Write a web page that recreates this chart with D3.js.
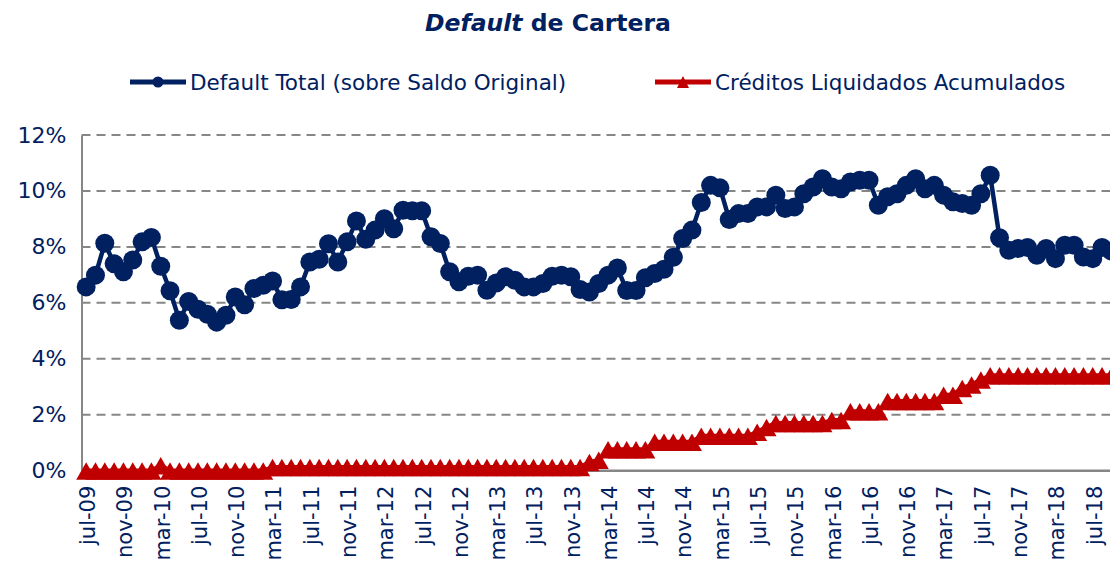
<!DOCTYPE html>
<html><head><meta charset="utf-8">
<script src="https://cdn.jsdelivr.net/npm/d3@7"></script>
<style>body{margin:0;background:#fff;} svg{display:block;}</style>
</head><body>
<svg id="chart" width="1110" height="563"></svg>
<script>
const months = [
"jul-09","ago-09","sep-09","oct-09","nov-09","dic-09","ene-10","feb-10","mar-10","abr-10","may-10","jun-10",
"jul-10","ago-10","sep-10","oct-10","nov-10","dic-10","ene-11","feb-11","mar-11","abr-11","may-11","jun-11",
"jul-11","ago-11","sep-11","oct-11","nov-11","dic-11","ene-12","feb-12","mar-12","abr-12","may-12","jun-12",
"jul-12","ago-12","sep-12","oct-12","nov-12","dic-12","ene-13","feb-13","mar-13","abr-13","may-13","jun-13",
"jul-13","ago-13","sep-13","oct-13","nov-13","dic-13","ene-14","feb-14","mar-14","abr-14","may-14","jun-14",
"jul-14","ago-14","sep-14","oct-14","nov-14","dic-14","ene-15","feb-15","mar-15","abr-15","may-15","jun-15",
"jul-15","ago-15","sep-15","oct-15","nov-15","dic-15","ene-16","feb-16","mar-16","abr-16","may-16","jun-16",
"jul-16","ago-16","sep-16","oct-16","nov-16","dic-16","ene-17","feb-17","mar-17","abr-17","may-17","jun-17",
"jul-17","ago-17","sep-17","oct-17","nov-17","dic-17","ene-18","feb-18","mar-18","abr-18","may-18","jun-18",
"jul-18","ago-18","sep-18"];

const tickLabels = ["jul-09","nov-09","mar-10","jul-10","nov-10","mar-11","jul-11","nov-11","mar-12","jul-12",
"nov-12","mar-13","jul-13","nov-13","mar-14","jul-14","nov-14","mar-15","jul-15","nov-15","mar-16","jul-16",
"nov-16","mar-17","jul-17","nov-17","mar-18","jul-18"];

const yTicks = [0, 2, 4, 6, 8, 10, 12];

// Default Total (sobre Saldo Original), %
const defaultTotal = [
6.57,6.99,8.13,7.40,7.11,7.53,8.18,8.34,7.31,6.43,5.38,6.05,
5.77,5.59,5.31,5.56,6.21,5.93,6.51,6.63,6.78,6.11,6.12,6.57,
7.46,7.56,8.11,7.46,8.18,8.93,8.27,8.60,9.01,8.65,9.31,9.29,
9.29,8.36,8.12,7.11,6.75,6.95,6.99,6.45,6.71,6.93,6.81,6.57,
6.57,6.69,6.95,6.99,6.93,6.48,6.39,6.69,6.99,7.25,6.44,6.44,
6.90,7.05,7.20,7.63,8.30,8.60,9.59,10.20,10.11,8.98,9.19,9.19,
9.43,9.43,9.85,9.37,9.43,9.90,10.14,10.44,10.14,10.08,10.32,10.38,
10.38,9.49,9.79,9.90,10.20,10.44,10.08,10.20,9.85,9.61,9.55,9.49,
9.90,10.56,8.33,7.88,7.94,7.98,7.70,7.94,7.58,8.06,8.06,7.64,
7.58,7.98,7.85];

// Créditos Liquidados Acumulados, %
const liquidados = [
0,0,0,0,0,0,0,0,0.19,0,0,0,
0,0,0,0,0,0,0,0,0.12,0.12,0.12,0.12,
0.12,0.12,0.12,0.12,0.12,0.12,0.12,0.12,0.12,0.12,0.12,0.12,
0.12,0.12,0.12,0.12,0.12,0.12,0.12,0.12,0.12,0.12,0.12,0.12,
0.12,0.12,0.12,0.12,0.12,0.12,0.30,0.38,0.76,0.76,0.76,0.76,
0.76,1.03,1.03,1.03,1.03,1.03,1.24,1.24,1.24,1.24,1.24,1.24,
1.38,1.55,1.70,1.70,1.70,1.70,1.70,1.70,1.80,1.80,2.12,2.12,
2.12,2.12,2.48,2.48,2.48,2.48,2.48,2.48,2.71,2.71,2.95,3.07,
3.25,3.40,3.40,3.40,3.40,3.40,3.40,3.40,3.40,3.40,3.40,3.40,
3.40,3.40,3.40];

const seriesNames = ["Default Total (sobre Saldo Original)", "Créditos Liquidados Acumulados"];

const NAVY = "#002060", RED = "#C00000", GRID = "#868686";
const FONT = "DejaVu Sans, Verdana, sans-serif";

const svg = d3.select("#chart");
const left = 81.5, step = 9.32;
const x = d3.scaleBand().domain(months).range([left, left + step * months.length]).padding(0);
const cx = d => x(d) + x.bandwidth() / 2;
const y = d3.scaleLinear().domain([0, 12]).range([470.7, 135]);
const right = 1110;

// Title
const title = svg.append("text").attr("x", 548).attr("y", 31).attr("text-anchor", "middle")
  .attr("font-family", FONT).attr("font-size", 23.5).attr("font-weight", "bold").attr("fill", NAVY);
title.append("tspan").attr("font-style", "italic").text("Default");
title.append("tspan").text(" de Cartera");

// Gridlines
svg.append("g").selectAll("line").data(yTicks.filter(t => t > 0)).join("line")
  .attr("x1", left).attr("x2", right).attr("y1", d => y(d)).attr("y2", d => y(d))
  .attr("stroke", GRID).attr("stroke-width", 2).attr("stroke-dasharray", "9,6");

// Y axis
const yAxis = d3.axisLeft(y).tickValues(yTicks).tickFormat(d => d + "%").tickSize(0).tickPadding(15);
const gy = svg.append("g").attr("transform", `translate(${left},0)`).call(yAxis);
gy.select(".domain").attr("stroke", GRID).attr("stroke-width", 2);
gy.selectAll("text").attr("font-family", FONT).attr("font-size", 22).attr("fill", NAVY);

// X axis
const xAxis = d3.axisBottom(x).tickValues(tickLabels).tickSize(0).tickPadding(0);
const gx = svg.append("g").attr("transform", `translate(0,${y(0)})`).call(xAxis);
gx.select(".domain").attr("stroke", GRID).attr("stroke-width", 2.5).attr("d", `M${left},0H${right + 20}`);
gx.selectAll("text").attr("font-family", FONT).attr("font-size", 21).attr("fill", NAVY)
  .attr("text-anchor", "end").attr("dy", "0.35em")
  .attr("transform", "translate(1.5,15) rotate(-90)").attr("x", 0).attr("y", 0);

// Red series
const redData = months.map((m, i) => ({m, v: liquidados[i]}));
const line = d3.line().x(d => cx(d.m)).y(d => y(d.v));
svg.append("path").datum(redData).attr("d", line).attr("fill", "none")
  .attr("stroke", RED).attr("stroke-width", 4.5).attr("stroke-linejoin", "round");
const tri = "M0,-8.5L10,9L-10,9Z";
svg.append("g").selectAll("path").data(redData).join("path")
  .attr("d", tri).attr("transform", d => `translate(${cx(d.m)},${y(d.v)})`).attr("fill", RED);

// Blue series
const blueData = months.map((m, i) => ({m, v: defaultTotal[i]}));
svg.append("path").datum(blueData).attr("d", line).attr("fill", "none")
  .attr("stroke", NAVY).attr("stroke-width", 4.5).attr("stroke-linejoin", "round");
svg.append("g").selectAll("circle").data(blueData).join("circle")
  .attr("cx", d => cx(d.m)).attr("cy", d => y(d.v)).attr("r", 9.5).attr("fill", NAVY);

// Legend
const lg = svg.append("g").attr("font-family", FONT).attr("font-size", 21.5).attr("fill", NAVY);
lg.append("line").attr("x1", 130).attr("x2", 186).attr("y1", 82).attr("y2", 82).attr("stroke", NAVY).attr("stroke-width", 5);
lg.append("circle").attr("cx", 158).attr("cy", 82).attr("r", 5.5).attr("fill", NAVY);
lg.append("text").attr("x", 190).attr("y", 82).attr("dy", "0.35em").text(seriesNames[0]);
lg.append("line").attr("x1", 655).attr("x2", 711).attr("y1", 82).attr("y2", 82).attr("stroke", RED).attr("stroke-width", 5);
lg.append("path").attr("d", "M0,-6L6,6L-6,6Z").attr("transform", "translate(683,82)").attr("fill", RED);
lg.append("text").attr("x", 715).attr("y", 82).attr("dy", "0.35em").text(seriesNames[1]);
</script>
</body></html>
